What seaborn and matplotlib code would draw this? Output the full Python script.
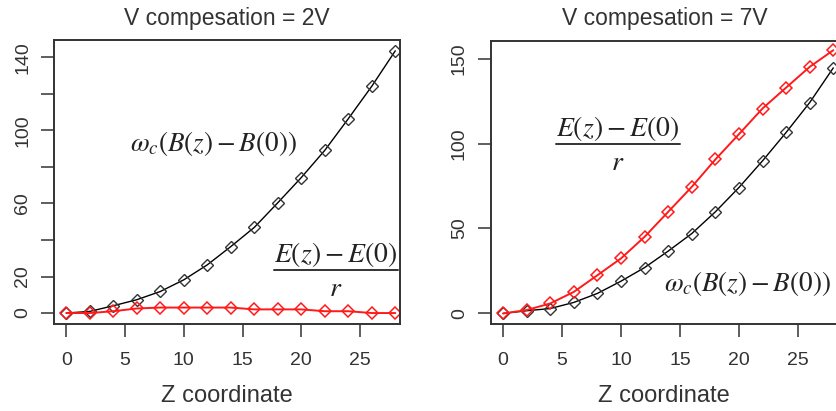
import numpy as np
import pandas as pd
import matplotlib
matplotlib.use("Agg")
import matplotlib.pyplot as plt
import seaborn as sns

# ---- data ----
z = [0, 2, 4, 6, 8, 10, 12, 14, 16, 18, 20, 22, 24, 26, 28]
b_2v = [0, 0.9, 4.0, 7.3, 11.8, 18.2, 26.4, 36.4, 46.9, 60.4, 74.2, 89.1, 106.4, 124.2, 143.6]
e_2v = [0, 0, 1.0, 2.5, 3.0, 3.0, 3.0, 3.0, 2.0, 2.0, 2.0, 1.0, 1.0, 0, 0]
b_7v = [0, 1.6, 2.9, 6.5, 11.8, 19.0, 27.0, 36.7, 47.0, 59.8, 74.1, 89.8, 106.5, 124.1, 144.5]
e_7v = [0, 2.0, 5.9, 12.7, 22.5, 32.4, 45.1, 59.8, 74.5, 90.6, 105.5, 120.6, 132.9, 145.1, 154.9]
titles = ["V compesation = 2V", "V compesation = 7V"]
xticks = [0, 5, 10, 15, 20, 25]
yticks_left = [0, 20, 40, 60, 80, 100, 120, 140]
ylabels_left = ["0", "20", "", "60", "", "100", "", "140"]
yticks_right = [0, 50, 100, 150]
ylabels_right = ["0", "50", "100", "150"]
xlabel = "Z coordinate"

sns.set_style("white")
plt.rcParams["font.family"] = ["Liberation Sans", "DejaVu Sans"]
plt.rcParams["mathtext.fontset"] = "stix"

fig = plt.figure(figsize=(8.36, 4.11), dpi=100)
axL = fig.add_axes([54/836, 87/411, 346/836, 284/411])
axR = fig.add_axes([490.7/836, 87/411, 347.3/836, 283.3/411])

def draw(ax, bvals, evals, ylim, yt, yl, title):
    df = pd.DataFrame({"z": z, "b": bvals, "e": evals})
    sns.lineplot(data=df, x="z", y="b", ax=ax, color="black", lw=1.0,
                 marker="D", markersize=6, markerfacecolor="none",
                 markeredgecolor="#333333", markeredgewidth=1.0)
    sns.lineplot(data=df, x="z", y="e", ax=ax, color="#ff1a1a", lw=1.4,
                 marker="D", markersize=6, markerfacecolor="none",
                 markeredgecolor="#ff1a1a", markeredgewidth=1.1)
    ax.set_xlim(-1.05, 28.4)
    ax.set_ylim(*ylim)
    ax.set_xticks(xticks)
    ax.set_xticklabels([str(t) for t in xticks], fontsize=14)
    ax.set_yticks(yt)
    ax.set_yticklabels(yl, fontsize=14, rotation=90, va="center")
    ax.tick_params(axis="both", direction="out", length=9.5, width=1.1,
                   color="#333333", labelcolor="#333333",
                   bottom=True, left=True, top=False, right=False)
    ax.tick_params(axis="x", pad=11)
    ax.tick_params(axis="y", pad=7)
    for s in ax.spines.values():
        s.set_visible(True)
        s.set_linewidth(1.4)
        s.set_color("#333333")
    ax.set_xlabel(xlabel, fontsize=17, color="#333333", labelpad=11)
    ax.set_ylabel("")
    ax.set_title(title, fontsize=16.5, color="#333333", pad=11)

draw(axL, b_2v, e_2v, (-6, 149.5), yticks_left, ylabels_left, titles[0])
draw(axR, b_7v, e_7v, (-6.2, 160.5), yticks_right, ylabels_right, titles[1])

omega = r"$\omega_c\left(B\left(z\right)-B\left(0\right)\right)$"
frac_num = r"$E\left(z\right)-E\left(0\right)$"
frac_den = r"$r$"

def fraction(xc, yline, width):
    fig.text(xc/836, 1 - (yline - 16)/411, frac_num, fontsize=20, ha="center", va="center", color="#222222")
    fig.text(xc/836, 1 - (yline + 19)/411, frac_den, fontsize=20, ha="center", va="center", color="#222222")
    fig.add_artist(plt.Line2D([(xc - width/2)/836, (xc + width/2)/836],
                              [1 - yline/411, 1 - yline/411], color="#333333", lw=1.4))

fig.text(213/836, 1 - 143/411, omega, fontsize=19.5, ha="center", va="center", color="#222222")
fraction(336, 270, 124)
fig.text(747/836, 1 - 283/411, omega, fontsize=19.5, ha="center", va="center", color="#222222")
fraction(617.5, 144, 124)

fig.savefig("out.png", dpi=100)
